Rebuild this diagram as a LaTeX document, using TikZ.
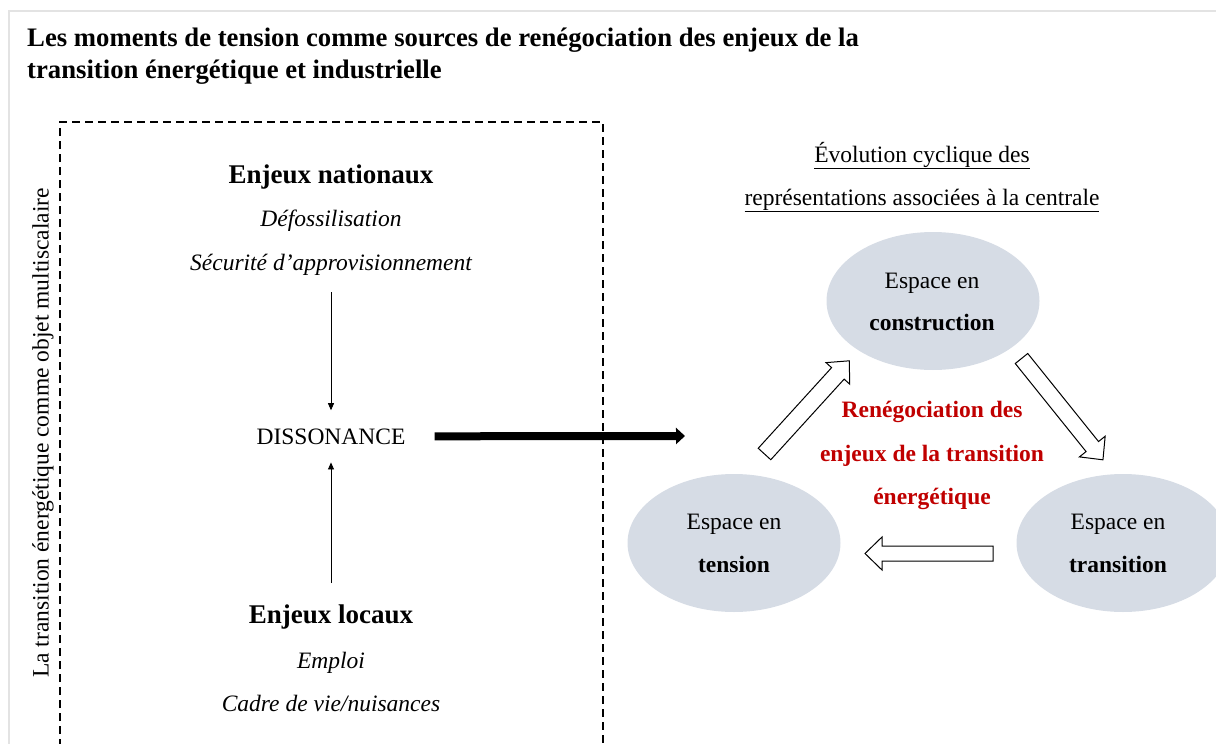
\documentclass[tikz,border=0pt]{standalone}
\usepackage{fontspec}
\setmainfont{Liberation Serif}
\usetikzlibrary{arrows.meta,shapes.geometric}
\definecolor{ellfill}{HTML}{D6DCE5}
\definecolor{redtxt}{HTML}{C00000}
\definecolor{framegray}{HTML}{E3E3E3}
\newcommand\blockarr[6]{% tail, angle, length, shaft width, head width, head length
  \begin{scope}[shift={#1},rotate=#2]
    \draw[blockarrow] (0,-#4/2) -- (#3-#6,-#4/2) -- (#3-#6,-#5/2) -- (#3,0)
      -- (#3-#6,#5/2) -- (#3-#6,#4/2) -- (0,#4/2) -- cycle;
  \end{scope}}
\begin{document}
\begin{tikzpicture}[x=1pt,y=-1pt,
  txt/.style={inner sep=0pt, font=\fontsize{23.5}{28}\selectfont},
  itxt/.style={txt, font=\fontsize{23.5}{28}\selectfont\itshape},
  head/.style={inner sep=0pt, font=\fontsize{27}{32}\selectfont\bfseries},
  ttl/.style={inner sep=0pt, anchor=base west, font=\fontsize{26.7}{32}\selectfont\bfseries},
  redt/.style={txt, text=redtxt, font=\fontsize{23.5}{28}\selectfont\bfseries},
  ell/.style={ellipse, fill=ellfill, minimum width=213pt, minimum height=138pt, inner sep=0pt},
  thinarr/.style={line width=0.8pt, -{Triangle[length=7pt,width=6pt]}},
  thickarr/.style={line width=8pt, -{Triangle[length=9pt,width=16pt]}},
  blockarrow/.style={draw=black, fill=white, line width=1pt, line join=miter},
  dashbox/.style={line width=2pt, dash pattern=on 8pt off 5pt},
]
\useasboundingbox (0,0) rectangle (1216,744);
% page frame
\draw[framegray, line width=2pt] (9,760) -- (9,11) -- (1230,11);
% title
\node[ttl] (t1) at (27,46) {Les moments de tension comme sources de renégociation des enjeux de la};
\node[ttl] (t2) at (27,78) {transition énergétique et industrielle};
% dashed box
\draw[dashbox] (60,760) -- (60,122) -- (603,122) -- (603,760);
\node[txt, rotate=90] (side) at (43,433) {La transition énergétique comme objet multiscalaire};
% left column
\node[head, anchor=base] (nat) at (331,183) {Enjeux nationaux};
\node[itxt, anchor=base] (defo) at (331,226) {Défossilisation};
\node[itxt, anchor=base] (secu) at (331,270) {Sécurité d’approvisionnement};
\node[txt, anchor=base] (diss) at (331,444) {DISSONANCE};
\node[head, anchor=base] (loc) at (331,623) {Enjeux locaux};
\node[itxt, anchor=base] (emp) at (331,668) {Emploi};
\node[itxt, anchor=base] (cadre) at (331,711) {Cadre de vie/nuisances};
\draw[thinarr, shorten <=17pt, shorten >=18pt] (secu.south) -- (diss.north);
\draw[thinarr, shorten <=21pt, shorten >=18pt] (loc.north) -- (diss.south);
\coordinate (cyc) at (685,436);
\draw[thickarr, shorten <=29pt] (diss.east) -- (cyc);
% right side
\node[txt, anchor=base] (ev1) at (922,162) {\underline{Évolution cyclique des}};
\node[txt, anchor=base] (ev2) at (922,205) {\underline{représentations associées à la centrale}};
\node[ell] (cons) at (933,301) {};
\node[ell] (tens) at (734,543) {};
\node[ell] (trans) at (1123,543) {};
\node[txt, anchor=base] at (932,288) {Espace en};
\node[txt, anchor=base, font=\fontsize{23.5}{28}\selectfont\bfseries] at (932,330) {construction};
\node[txt, anchor=base] at (734,529) {Espace en};
\node[txt, anchor=base, font=\fontsize{23.5}{28}\selectfont\bfseries] at (734,572) {tension};
\node[txt, anchor=base] at (1118,529) {Espace en};
\node[txt, anchor=base, font=\fontsize{23.5}{28}\selectfont\bfseries] at (1118,572) {transition};
\node[redt, anchor=base] (r1) at (932,417) {Renégociation des};
\node[redt, anchor=base] (r2) at (932,461) {enjeux de la transition};
\node[redt, anchor=base] (r3) at (932,504) {énergétique};
% block arrows
\blockarr{(764.5,454)}{47.7}{126}{17}{32}{17}
\blockarr{(1021.5,358.5)}{-51.2}{130}{16}{33}{17}
\blockarr{(993,553.5)}{180}{128}{15}{33}{17}
\end{tikzpicture}
\end{document}
